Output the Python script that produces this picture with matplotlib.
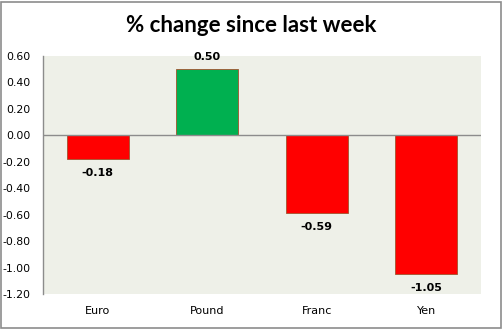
import matplotlib.pyplot as plt
from matplotlib.patches import Rectangle

# Chart data
currencies = ["Euro", "Pound", "Franc", "Yen"]
changes = [-0.18, 0.50, -0.59, -1.05]
y_ticks = [0.60, 0.40, 0.20, 0.00, -0.20, -0.40, -0.60, -0.80, -1.00, -1.20]

W, H = 503, 329
fig = plt.figure(figsize=(W / 100, H / 100), dpi=100)
fig.patch.set_facecolor("white")

# plot area in pixel coords
left, right, top, bottom = 43, 481, 56, 294
ax = fig.add_axes([left / W, 1 - bottom / H, (right - left) / W, (bottom - top) / H])
ax.set_facecolor("#EEF0E8")

x = list(range(len(currencies)))
colors = ["#00B050" if v > 0 else "#FF0000" for v in changes]
ax.bar(x, changes, width=0.57, color=colors, edgecolor="#A0522D", linewidth=0.6, zorder=2)

ax.axhline(0, color="#8C8C8C", linewidth=1, zorder=3)

for xi, v in zip(x, changes):
    if v > 0:
        ax.annotate(f"{v:.2f}", (xi, v), xytext=(0, 5), textcoords="offset points",
                    ha="center", va="bottom", fontsize=8, fontweight="bold")
    else:
        ax.annotate(f"{v:.2f}", (xi, v), xytext=(0, -6.5), textcoords="offset points",
                    ha="center", va="top", fontsize=8, fontweight="bold")

ax.set_xlim(-0.5, len(currencies) - 0.5)
ax.set_ylim(-1.2, 0.6)
ax.set_yticks(y_ticks)
ax.set_yticklabels([f"{t:.2f}" for t in y_ticks], fontsize=7.8)
ax.set_xticks(x)
ax.set_xticklabels(currencies, fontsize=8)
ax.tick_params(axis="x", length=0, pad=9)
ax.tick_params(axis="y", length=0, pad=9)
for s in ["top", "right", "bottom"]:
    ax.spines[s].set_visible(False)
ax.spines["left"].set_color("#8C8C8C")
ax.spines["left"].set_linewidth(1)

fig.text(0.5, 1 - 25 / H, "% change since last week", ha="center", va="center",
         fontsize=16, fontweight="bold", family=["Lato", "DejaVu Sans"])

# outer chart border
fig.patches.append(Rectangle((1 / W, 1 / H), 1 - 3 / W, 1 - 3 / H, transform=fig.transFigure,
                             fill=False, edgecolor="#8C8C8C", linewidth=1.2))

fig.savefig("out.png", dpi=100)
